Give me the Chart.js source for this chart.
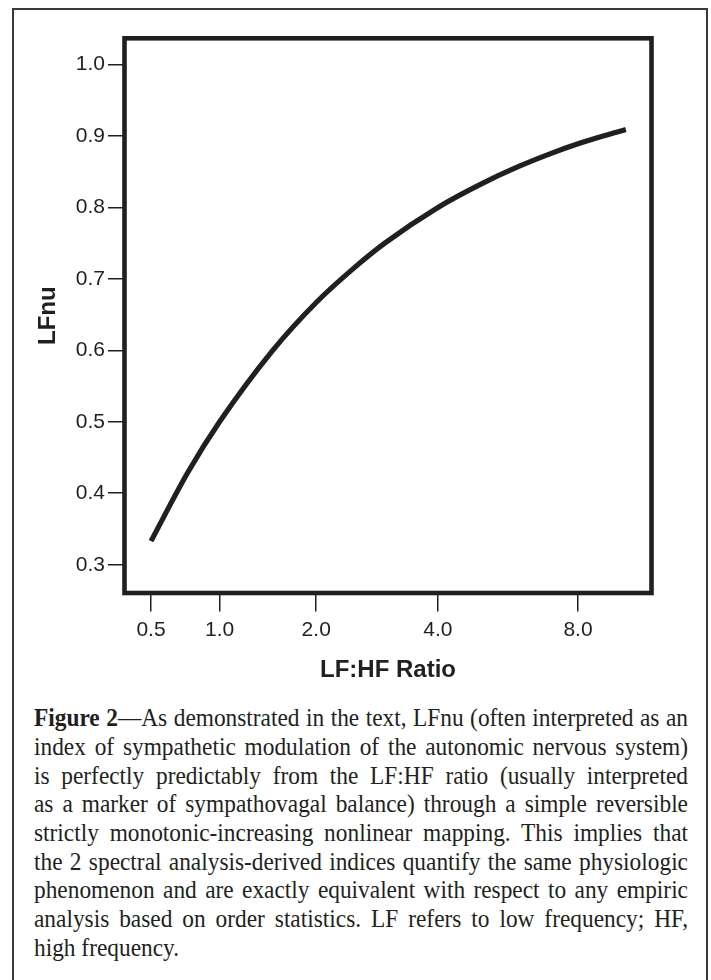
<!DOCTYPE html>
<html>
<head>
<meta charset="utf-8">
<script src="https://cdn.jsdelivr.net/npm/chart.js@4"></script>
<style>
  html, body { margin: 0; padding: 0; background: #fff; }
  body { width: 711px; height: 980px; position: relative; overflow: hidden; }
  #frame { position: absolute; left: 12px; top: 8px; width: 692px; height: 1000px; border: 2px solid #3a3a3a; }
  #chartBox { position: absolute; left: 0; top: 0; width: 711px; height: 700px; }
  #caption {
    position: absolute; left: 34px; top: 704.3px;
    font-family: "Liberation Serif", "Times New Roman", serif;
    font-size: 25.5px; color: #231f20;
    transform-origin: left top;
  }
  #caption div { height: 28.7px; line-height: 28.7px; white-space: nowrap; text-align: justify; text-align-last: justify; }
  #caption div.last { text-align-last: left; }
  #measure { position: absolute; visibility: hidden; white-space: nowrap;
    font-family: "Liberation Serif", "Times New Roman", serif; font-size: 25.5px; }
</style>
</head>
<body>
<div id="frame"></div>
<div id="chartBox"><canvas id="lfnuChart"></canvas></div>
<div id="caption"></div>
<span id="measure"></span>
<script>
// values
const ratioValues = [0.5, 0.75, 1.0, 1.5, 2.0, 2.5, 3.0, 4.0, 5.0, 6.0, 7.0, 8.0, 9.0, 10.0];
const lfnuValues = [0.333, 0.429, 0.5, 0.6, 0.667, 0.714, 0.75, 0.8, 0.833, 0.857, 0.875, 0.889, 0.9, 0.909];
const xTickValues = [0.5, 1.0, 2.0, 4.0, 8.0];
const yTickValues = [0.3, 0.4, 0.5, 0.6, 0.7, 0.8, 0.9, 1.0];

const captionLines = [
  '<b>Figure 2</b>\u2014As demonstrated in the text, LFnu (often interpreted as an',
  'index of sympathetic modulation of the autonomic nervous system)',
  'is perfectly predictably from the LF:HF ratio (usually interpreted',
  'as a marker of sympathovagal balance) through a simple reversible',
  'strictly monotonic-increasing nonlinear mapping. This implies that',
  'the 2 spectral analysis-derived indices quantify the same physiologic',
  'phenomenon and are exactly equivalent with respect to any empiric',
  'analysis based on order statistics. LF refers to low frequency; HF,',
  'high frequency.'
];

const ink = '#231f20';

// x axis spaced by log(1 + ratio)
class Log1pScale extends Chart.LinearScale {
  getPixelForValue(value) {
    if (value === null || value === undefined || isNaN(value)) return NaN;
    const a = Math.log1p(this.min), b = Math.log1p(this.max);
    return this.getPixelForDecimal((Math.log1p(value) - a) / (b - a));
  }
  getValueForPixel(pixel) {
    const a = Math.log1p(this.min), b = Math.log1p(this.max);
    return Math.expm1(a + this.getDecimalForPixel(pixel) * (b - a));
  }
}
Log1pScale.id = 'log1p';
Log1pScale.defaults = Chart.LinearScale.defaults;
Chart.register(Log1pScale);

const framePlugin = {
  id: 'plotFrame',
  afterDraw(chart) {
    const { ctx, chartArea: a } = chart;
    ctx.save();
    ctx.strokeStyle = ink;
    ctx.lineWidth = 4.6;
    ctx.strokeRect(a.left, a.top, a.right - a.left, a.bottom - a.top);
    ctx.restore();
  }
};

document.addEventListener('DOMContentLoaded', () => {
  // caption, condensed to fit the column like the printed text
  const cap = document.getElementById('caption');
  const meas = document.getElementById('measure');
  let widest = 0;
  captionLines.forEach(t => {
    meas.innerHTML = t;
    widest = Math.max(widest, meas.getBoundingClientRect().width);
  });
  const target = 654;
  const k = Math.min(1, target / (widest * 1.01));
  cap.style.width = (target / k) + 'px';
  cap.style.transform = 'scaleX(' + k + ')';
  captionLines.forEach((t, i) => {
    const d = document.createElement('div');
    d.innerHTML = t;
    if (i === captionLines.length - 1) d.className = 'last';
    cap.appendChild(d);
  });

  const ctx = document.getElementById('lfnuChart').getContext('2d');
  new Chart(ctx, {
    type: 'line',
    data: {
      datasets: [{
        data: ratioValues.map((r, i) => ({ x: r, y: lfnuValues[i] })),
        borderColor: ink,
        borderWidth: 5.2,
        pointRadius: 0,
        fill: false,
        cubicInterpolationMode: 'monotone'
      }]
    },
    plugins: [framePlugin],
    options: {
      responsive: true,
      maintainAspectRatio: false,
      animation: false,
      layout: { padding: { top: 38.3, right: 59.5, bottom: 0, left: 0 } },
      plugins: { legend: { display: false }, tooltip: { enabled: false } },
      scales: {
        x: {
          type: 'log1p',
          min: 0.342,
          max: 11.25,
          afterBuildTicks: s => { s.ticks = xTickValues.map(v => ({ value: v })); },
          afterFit: s => { s.height = 107; },
          border: { display: false },
          grid: { drawOnChartArea: false, color: ink, lineWidth: 1.5, tickLength: 18.5 },
          ticks: {
            autoSkip: false, maxRotation: 0, padding: 6, color: ink,
            font: { family: '"Liberation Sans", Arial, sans-serif', size: 21 },
            callback: v => Number(v).toFixed(1)
          },
          title: {
            display: true, text: 'LF:HF Ratio', color: ink,
            font: { family: '"Liberation Sans", Arial, sans-serif', size: 24, weight: 'bold' },
            padding: { top: 0, bottom: 15.6 }
          }
        },
        y: {
          type: 'linear',
          min: 0.2604,
          max: 1.0367,
          afterBuildTicks: s => { s.ticks = yTickValues.map(v => ({ value: v })); },
          afterFit: s => { s.width = 124.5; },
          border: { display: false },
          grid: { drawOnChartArea: false, color: ink, lineWidth: 1.5, tickLength: 16.5 },
          ticks: {
            autoSkip: false, padding: 3, color: ink,
            font: { family: '"Liberation Sans", Arial, sans-serif', size: 21 },
            callback: v => Number(v).toFixed(1)
          },
          title: {
            display: true, text: 'LFnu', color: ink,
            font: { family: '"Liberation Sans", Arial, sans-serif', size: 24, weight: 'bold' },
            padding: { top: 34.1, bottom: 0 }
          }
        }
      }
    }
  });
});
</script>
</body>
</html>
